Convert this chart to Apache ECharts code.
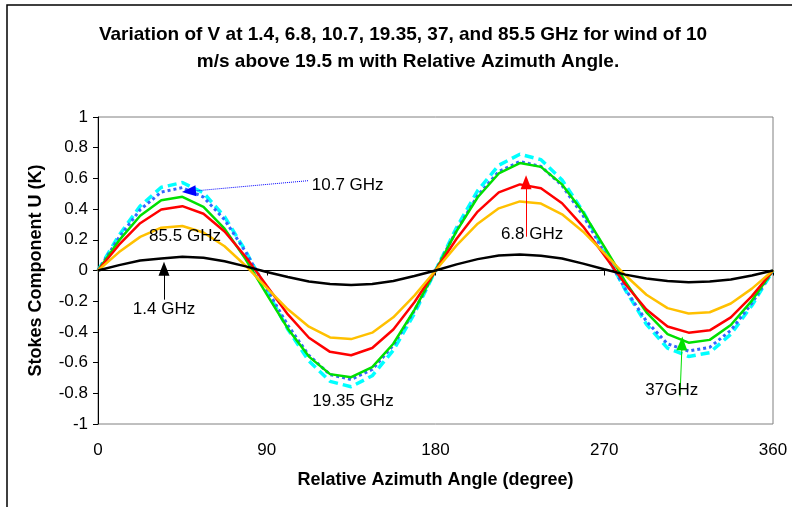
<!DOCTYPE html>
<html>
<head>
<meta charset="utf-8">
<script src="https://cdn.jsdelivr.net/npm/echarts@6/dist/echarts.min.js"></script>
<style>
html,body{margin:0;padding:0;background:#fff;}
#chart{width:792px;height:507px;}
</style>
</head>
<body>
<div id="chart"></div>
<script>
// Relative azimuth angle (degree)
const angles = [0, 11.25, 22.5, 33.75, 45, 56.25, 67.5, 78.75, 90, 101.25, 112.5, 123.75, 135, 146.25, 157.5, 168.75,
  180, 191.25, 202.5, 213.75, 225, 236.25, 247.5, 258.75, 270, 281.25, 292.5, 303.75, 315, 326.25, 337.5, 348.75, 360];

// Stokes component U (K)
const u19_35 = [0, 0.230, 0.420, 0.542, 0.573, 0.506, 0.350, 0.127, -0.130, -0.383, -0.590, -0.722, -0.757, -0.686, -0.520, -0.280,
  0, 0.280, 0.520, 0.686, 0.757, 0.722, 0.590, 0.383, 0.130, -0.127, -0.350, -0.506, -0.560, -0.535, -0.415, -0.228, 0];
const u10_7 = [0, 0.216, 0.396, 0.511, 0.540, 0.478, 0.331, 0.121, -0.120, -0.357, -0.553, -0.678, -0.710, -0.645, -0.488, -0.262,
  0, 0.262, 0.488, 0.645, 0.710, 0.678, 0.553, 0.357, 0.120, -0.121, -0.331, -0.478, -0.525, -0.500, -0.390, -0.213, 0];
const u37 = [0, 0.196, 0.357, 0.458, 0.480, 0.415, 0.273, 0.073, -0.156, -0.379, -0.561, -0.675, -0.695, -0.630, -0.477, -0.256,
  0, 0.256, 0.477, 0.632, 0.700, 0.675, 0.561, 0.379, 0.156, -0.073, -0.273, -0.415, -0.470, -0.452, -0.355, -0.196, 0];
const u6_8 = [0, 0.168, 0.308, 0.397, 0.419, 0.370, 0.254, 0.090, -0.100, -0.286, -0.438, -0.530, -0.552, -0.505, -0.384, -0.207,
  0, 0.207, 0.384, 0.509, 0.561, 0.536, 0.438, 0.286, 0.100, -0.090, -0.254, -0.365, -0.405, -0.390, -0.305, -0.167, 0];
const u85_5 = [0, 0.120, 0.219, 0.279, 0.290, 0.248, 0.158, 0.031, -0.113, -0.253, -0.366, -0.436, -0.447, -0.405, -0.305, -0.164,
  0, 0.164, 0.305, 0.405, 0.450, 0.436, 0.366, 0.253, 0.113, -0.031, -0.158, -0.245, -0.280, -0.272, -0.215, -0.118, 0];
const u1_4 = [0, 0.035, 0.065, 0.078, 0.090, 0.083, 0.060, 0.027, -0.010, -0.042, -0.072, -0.088, -0.094, -0.088, -0.068, -0.036,
  0, 0.040, 0.074, 0.098, 0.105, 0.096, 0.078, 0.045, 0.008, -0.027, -0.052, -0.068, -0.076, -0.072, -0.058, -0.032, 0];

const xTicks = [0, 90, 180, 270, 360];
const yTicks = [-1, -0.8, -0.6, -0.4, -0.2, 0, 0.2, 0.4, 0.6, 0.8, 1];

const titleLines = ['Variation of V at 1.4, 6.8, 10.7, 19.35, 37, and 85.5 GHz for wind of 10',
  'm/s above 19.5 m with Relative Azimuth Angle.'];

const FONT = '"Liberation Sans", Arial, sans-serif';
const pairs = vals => angles.map((a, i) => [a, vals[i]]);

function annText(coord, text, align) {
  return {
    coord: coord, symbol: 'circle', symbolSize: 0,
    label: { show: true, formatter: text, position: align === 'left' ? 'right' : 'inside', distance: 0,
      color: '#000', fontSize: 17, fontFamily: FONT }
  };
}
function arrow(from, to, color, type) {
  return {
    silent: true, animation: false,
    symbol: ['none', 'triangle'], symbolSize: [11, 14],
    label: { show: false },
    lineStyle: { color: color, width: 1, type: type || 'solid' },
    data: [[{ coord: from }, { coord: to }]]
  };
}

const chart = echarts.init(document.getElementById('chart'), null, { renderer: 'canvas' });
chart.setOption({
  animation: false,
  backgroundColor: '#fff',
  graphic: [
    { type: 'rect', shape: { x: 7, y: 5, width: 820, height: 540 }, style: { fill: 'none', stroke: '#000', lineWidth: 1.5 }, silent: true },
    { type: 'text', x: 403, y: 35, style: { text: titleLines[0], fontSize: 19, fontWeight: 'bold', fontFamily: FONT, fill: '#000', align: 'center', verticalAlign: 'middle' } },
    { type: 'text', x: 408, y: 62, style: { text: titleLines[1], fontSize: 19, fontWeight: 'bold', fontFamily: FONT, fill: '#000', align: 'center', verticalAlign: 'middle' } }
  ],
  grid: { left: 98, right: 19, top: 117, bottom: 83, show: true, borderColor: '#808080', borderWidth: 1, containLabel: false },
  xAxis: {
    type: 'value', min: xTicks[0], max: xTicks[xTicks.length - 1], interval: 90,
    name: 'Relative Azimuth Angle (degree)', nameLocation: 'middle', nameGap: 47,
    nameTextStyle: { fontSize: 18, fontWeight: 'bold', fontFamily: FONT, color: '#000' },
    axisLine: { show: true, lineStyle: { color: '#000', width: 1 } },
    axisTick: { show: true, length: 5, lineStyle: { color: '#000' } },
    axisLabel: { fontSize: 17, fontFamily: FONT, color: '#000', margin: 18 },
    splitLine: { show: false }
  },
  yAxis: {
    type: 'value', min: yTicks[0], max: yTicks[yTicks.length - 1], interval: 0.2,
    name: 'Stokes Component U (K)', nameLocation: 'middle', nameGap: 53,
    nameTextStyle: { fontSize: 18, fontWeight: 'bold', fontFamily: FONT, color: '#000' },
    axisLine: { show: true, lineStyle: { color: '#000', width: 1 } },
    axisTick: { show: true, length: 5, lineStyle: { color: '#000' } },
    axisLabel: { fontSize: 17, fontFamily: FONT, color: '#000', margin: 10,
      formatter: v => String(Math.round(v * 10) / 10) },
    splitLine: { show: false }
  },
  series: [
    { name: '19.35 GHz', type: 'line', data: pairs(u19_35), symbol: 'none',
      lineStyle: { color: '#00FFFF', width: 3.5, type: [9, 5] },
      markPoint: { silent: true, data: [annText([136, -0.855], '19.35 GHz')] } },
    { name: '10.7 GHz', type: 'line', data: pairs(u10_7), symbol: 'none',
      lineStyle: { color: '#3366FF', width: 3, type: [3, 3] },
      markLine: arrow([112, 0.585], [48.5, 0.515], '#0000FF', 'dotted'),
      markPoint: { silent: true, data: [annText([114, 0.555], '10.7 GHz', 'left')] } },
    { name: '37 GHz', type: 'line', data: pairs(u37), symbol: 'none',
      lineStyle: { color: '#00E000', width: 2.5 },
      markLine: arrow([310.4, -0.82], [311.5, -0.475], '#00E000'),
      markPoint: { silent: true, data: [annText([306, -0.78], '37GHz')] } },
    { name: '6.8 GHz', type: 'line', data: pairs(u6_8), symbol: 'none',
      lineStyle: { color: '#FF0000', width: 2.5 },
      markLine: arrow([228.3, 0.22], [228.3, 0.575], '#FF0000'),
      markPoint: { silent: true, data: [annText([231.5, 0.235], '6.8 GHz')] } },
    { name: '85.5 GHz', type: 'line', data: pairs(u85_5), symbol: 'none',
      lineStyle: { color: '#FFC000', width: 2.5 },
      markPoint: { silent: true, data: [annText([46.4, 0.22], '85.5 GHz')] } },
    { name: '1.4 GHz', type: 'line', data: pairs(u1_4), symbol: 'none',
      lineStyle: { color: '#000000', width: 2.5 },
      markLine: arrow([35.2, -0.19], [35.2, 0.012], '#000000'),
      markPoint: { silent: true, data: [annText([35.2, -0.25], '1.4 GHz')] } }
  ]
});
</script>
</body>
</html>
